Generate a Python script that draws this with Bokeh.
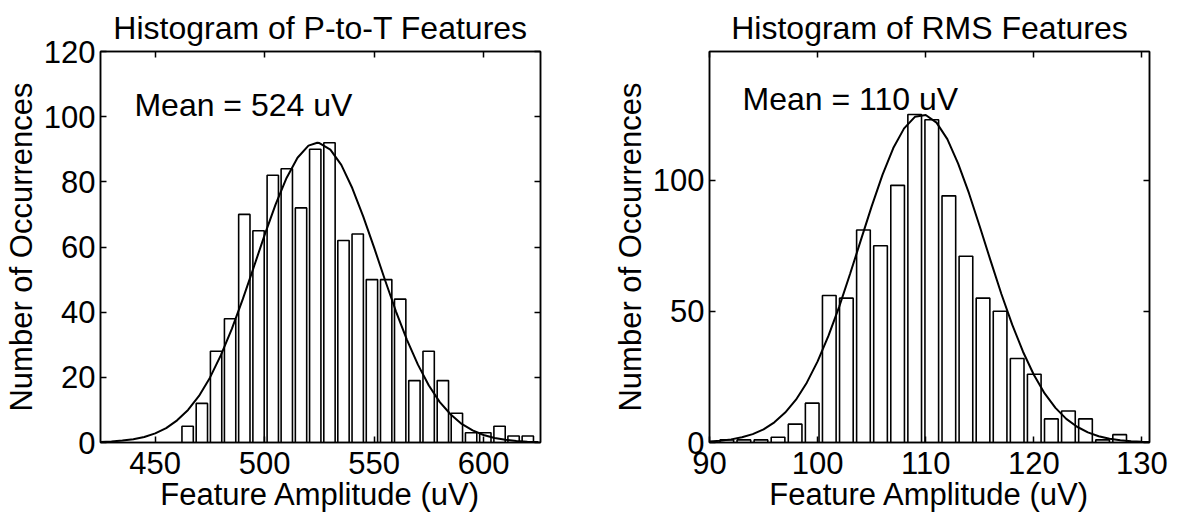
from bokeh.plotting import figure
from bokeh.layouts import row
from bokeh.models import Range1d, LinearAxis, FixedTicker, Label, ColumnDataSource
from bokeh.embed import file_html
from bokeh.resources import INLINE

# ---------------- data: P-to-T features ----------------
ptt_centers = [464.8, 471.3, 477.8, 484.2, 490.7, 497.2, 503.7, 510.1, 516.6, 523.1,
               529.6, 536.0, 542.5, 549.0, 555.5, 561.9, 568.4, 574.9, 581.4, 587.8,
               594.3, 600.8, 607.3, 613.7, 620.2]
ptt_counts = [5, 12, 28, 38, 70, 65, 82, 84, 72, 90, 92, 62, 64, 50, 50, 44, 19, 28, 19, 9,
              3, 3, 5, 2, 2]
ptt_bin_width = 6.475
ptt_fit_x = [425, 430, 435, 440, 445, 450, 455, 460, 465, 470, 475, 480, 485, 490, 495,
             500, 505, 510, 515, 520, 524, 525, 530, 535, 540, 545, 550, 555, 560, 565,
             570, 575, 580, 585, 590, 595, 600, 605, 610, 615, 620, 625]
ptt_fit_y = [0.18, 0.33, 0.59, 1.0, 1.7, 2.8, 4.4, 6.8, 10.0, 14.3, 19.9, 26.8, 34.9, 44.0,
             53.8, 63.7, 73.1, 81.2, 87.4, 91.1, 92.0, 91.9, 89.9, 85.2, 78.1, 69.4, 59.8,
             49.8, 40.2, 31.5, 23.9, 17.5, 12.4, 8.6, 5.7, 3.7, 2.3, 1.4, 0.82, 0.47, 0.26,
             0.14]
ptt_x_ticks = [450, 500, 550, 600]
ptt_y_ticks = [0, 20, 40, 60, 80, 100, 120]

# ---------------- data: RMS features ----------------
rms_centers = [91.6, 93.18, 94.76, 96.34, 97.92, 99.5, 101.08, 102.66, 104.24, 105.82,
               107.4, 108.98, 110.56, 112.14, 113.72, 115.3, 116.88, 118.46, 120.04,
               121.62, 123.2, 124.78, 126.36, 127.94]
rms_counts = [1, 1, 1, 2, 7, 15, 56, 55, 81, 75, 98, 125, 123, 94, 71, 55, 50, 32, 26, 9,
              12, 9, 1, 3]
rms_bin_width = 1.58
rms_fit_x = [90, 91, 92, 93, 94, 95, 96, 97, 98, 99, 100, 101, 102, 103, 104, 105, 106,
             107, 108, 109, 110, 111, 112, 113, 114, 115, 116, 117, 118, 119, 120, 121,
             122, 123, 124, 125, 126, 127, 128, 129, 130, 130.7]
rms_fit_y = [0.39, 0.69, 1.19, 1.98, 3.2, 5.0, 7.7, 11.4, 16.3, 22.8, 30.9, 40.6, 51.8,
             64.2, 77.1, 90.0, 102.0, 112.2, 119.7, 124.1, 124.8, 121.9, 115.6, 106.3,
             95.0, 82.3, 69.3, 56.6, 44.9, 34.6, 25.8, 18.7, 13.2, 9.0, 6.0, 3.85, 2.4,
             1.46, 0.86, 0.49, 0.27, 0.18]
rms_x_ticks = [90, 100, 110, 120, 130]
rms_y_ticks = [0, 50, 100]

FONT = "Liberation Sans"


def style_axis(ax, ticks, labels=True):
    ax.ticker = FixedTicker(ticks=ticks)
    ax.axis_line_color = "black"
    ax.axis_line_width = 1.5
    ax.major_tick_line_color = "black"
    ax.major_tick_line_width = 1.5
    ax.major_tick_in = 6
    ax.major_tick_out = 0
    ax.minor_tick_line_color = None
    ax.major_label_text_font = FONT
    ax.axis_label_text_font = FONT
    ax.axis_label_text_font_size = "31px"
    ax.axis_label_text_font_style = "normal"
    ax.axis_label_text_color = "black"
    if labels:
        ax.major_label_text_font_size = "31px"
        ax.major_label_text_color = "black"
    else:
        # mirrored tick marks only (box style): labels are not painted
        ax.major_label_text_font_size = "1px"
        ax.major_label_text_color = None
        ax.major_label_standoff = 0


def make_panel(title, centers, counts, bw, fx, fy, xr, yr, xt, yt, mean_text, mx, my,
               border_left, border_right):
    p = figure(frame_width=440, frame_height=391, x_range=Range1d(*xr),
               y_range=Range1d(*yr), output_backend="svg", toolbar_location=None,
               min_border_left=border_left, min_border_right=border_right,
               min_border_top=51, min_border_bottom=70, title=title,
               background_fill_color="white", border_fill_color="white")
    p.title.text_font = FONT
    p.title.text_font_size = "32px"
    p.title.text_font_style = "normal"
    p.title.align = "center"
    p.title.text_color = "black"
    p.title.standoff = 12
    p.xgrid.visible = False
    p.ygrid.visible = False
    p.outline_line_color = "black"
    p.outline_line_width = 1.5

    src = ColumnDataSource(dict(x=centers, top=counts))
    p.vbar(x="x", top="top", bottom=0, width=bw * 0.8, source=src,
           fill_color="white", line_color="black", line_width=1.6)
    p.line(fx, fy, line_color="black", line_width=2)

    style_axis(p.xaxis[0], xt)
    style_axis(p.yaxis[0], yt)
    p.xaxis[0].axis_label = "Feature Amplitude (uV)"
    p.yaxis[0].axis_label = "Number of Occurrences"
    p.xaxis[0].major_label_standoff = 9
    p.yaxis[0].major_label_standoff = 5
    p.xaxis[0].axis_label_standoff = 0
    p.yaxis[0].axis_label_standoff = 2

    top_ax = LinearAxis()
    style_axis(top_ax, xt, labels=False)
    p.add_layout(top_ax, "above")
    right_ax = LinearAxis()
    style_axis(right_ax, yt, labels=False)
    p.add_layout(right_ax, "right")

    p.add_layout(Label(x=mx, y=my, text=mean_text, text_font=FONT, text_font_size="32px",
                       text_color="black", text_baseline="alphabetic"))
    return p


p1 = make_panel("Histogram of P-to-T Features", ptt_centers, ptt_counts, ptt_bin_width,
                ptt_fit_x, ptt_fit_y, (425, 626), (0, 120), ptt_x_ticks, ptt_y_ticks,
                "Mean = 524 uV", 440.5, 103.5, 95, 62)
p2 = make_panel("Histogram of RMS Features", rms_centers, rms_counts, rms_bin_width,
                rms_fit_x, rms_fit_y, (90, 130.7), (0, 149), rms_x_ticks, rms_y_ticks,
                "Mean = 110 uV", 93.05, 131.0, 107, 20)

layout = row(p1, p2)
open("out.html", "w").write(file_html(layout, INLINE))
